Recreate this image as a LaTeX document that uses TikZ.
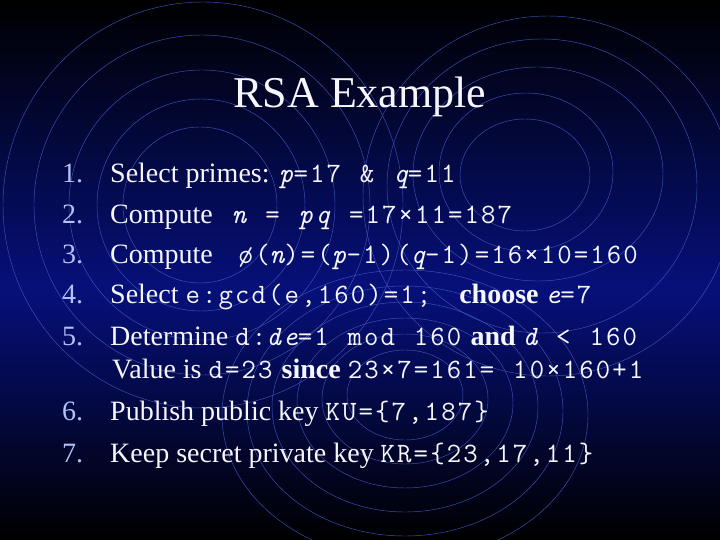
\documentclass[tikz,border=0pt]{standalone}
\usepackage{fontspec}
\setmainfont{Liberation Serif}
\setmonofont[LetterSpace=7.5, WordSpace=1.143]{Latin Modern Mono}
\usetikzlibrary{positioning}
\definecolor{bgmid}{RGB}{6,16,122}
\definecolor{ringblue}{RGB}{62,82,185}
\definecolor{numblue}{RGB}{176,194,248}
\definecolor{textwhite}{RGB}{246,246,255}
\newcommand{\mvar}[1]{{\itshape #1}}
\tikzset{
  ring/.style={draw=ringblue, line width=0.45pt},
  slidetitle/.style={anchor=base, inner sep=0pt, text=textwhite, font=\fontsize{44}{44}\selectfont},
  num/.style={anchor=base west, inner sep=0pt, text=numblue, font=\fontsize{28}{28}\selectfont},
  item/.style={anchor=base west, inner sep=0pt, text=textwhite, font=\fontsize{28}{28}\selectfont}
}

\begin{document}
\begin{tikzpicture}[x=1pt,y=-1pt]
  \useasboundingbox (0,0) rectangle (720,540);
  \shade[top color=black, bottom color=bgmid] (0,0) rectangle (720,290);
  \shade[top color=bgmid, bottom color=black] (0,290) rectangle (720,540);
  \begin{scope}
    \clip (0,0) rectangle (720,540);
    \foreach \cx/\cy/\rx/\ry in {200/205/77/78, 201/205/104/106, 202/205/133/135, 202/205/168/170, 203/205/200/203,
        525/175/65/56, 526/172/87/79, 538/174/125/107, 542/186/155/147, 548/196/185/180,
        405/395/58/45, 405/399/83/65, 405/403/108/85, 405/407/133/105, 405/411/158/125, 405/415/183/145}
      \draw[ring] (\cx,\cy) ellipse [x radius=\rx pt, y radius=\ry pt];
  \end{scope}

  \node[slidetitle] (title) at (360,108) {RSA Example};

  \node[num] (n1) at (62,183) {1.};
  \node[num] (n2) at (62,223) {2.};
  \node[num] (n3) at (62,263) {3.};
  \node[num] (n4) at (62,303) {4.};
  \node[num] (n5) at (62,345) {5.};
  \node[num] (n6) at (62,420) {6.};
  \node[num] (n7) at (62,462) {7.};

  \node[item] (primes) at (110,183) {Select primes: \texttt{\mvar{p}=17 \& \mvar{q}=11}};
  \node[item] (modulus) at (110,223) {Compute\texttt{ \mvar{n} = \mvar{pq} =17×11=187}};
  \node[item] (totient) at (110,263) {Compute \texttt{ ø(\mvar{n})=(\mvar{p}-1)(\mvar{q}-1)=16×10=160}};
  \node[item] (pubexp) at (110,303) {Select \texttt{e:gcd(e,160)=1; } \textbf{choose} \texttt{\mvar{e}=7}};
  \node[item] (privexp) at (110,345) {Determine \texttt{d:\mvar{de}=1 mod 160} \textbf{and} \texttt{\mvar{d} < 160}};
  \node[item] (value) at (112,378) {Value is \texttt{d=23} \textbf{since} \texttt{23×7=161= 10×160+1}};
  \node[item] (pubkey) at (110,420) {Publish public key \texttt{KU=\{7,187\}}};
  \node[item] (privkey) at (110,462) {Keep secret private key \texttt{KR=\{23,17,11\}}};
\end{tikzpicture}
\end{document}
